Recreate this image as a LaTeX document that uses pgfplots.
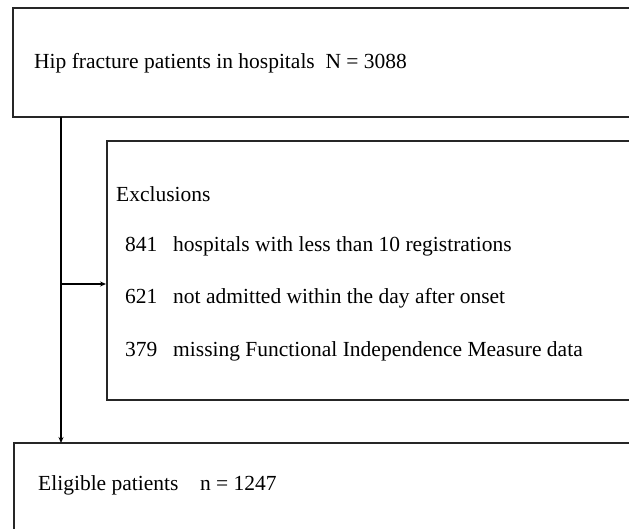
\documentclass[border=0pt]{standalone}
\usepackage{pgfplots}
\pgfplotsset{compat=1.18}
\usepackage{fontspec}
\setmainfont{Liberation Serif}
\usetikzlibrary{arrows.meta}
\tikzset{lbl/.style={font=\fontsize{21.5}{25}\selectfont, anchor=base west, inner sep=0pt}}
\begin{document}
\begin{tikzpicture}
\begin{axis}[
  width=629pt, height=529pt, scale only axis,
  xmin=0, xmax=629, ymin=0, ymax=529, y dir=reverse,
  hide axis, clip=false
]
% top box
\addplot[draw=black!85, line width=2pt] coordinates {(629,8) (13,8) (13,117) (629,117)};
% exclusions box
\addplot[draw=black!85, line width=2pt] coordinates {(629,141) (107,141) (107,400) (629,400)};
% bottom box
\addplot[draw=black!85, line width=2pt] coordinates {(629,443) (14,443) (14,529)};
% connectors
\addplot[draw=black, line width=1.5pt, -{Stealth[length=6pt,width=5pt]}] coordinates {(61,117) (61,443)};
\addplot[draw=black, line width=1.5pt, -{Stealth[length=6pt,width=5pt]}] coordinates {(61,284) (106,284)};
% texts
\node[lbl] at (axis cs:34,69) {Hip fracture patients in hospitals\ \ N = 3088};
\node[lbl] at (axis cs:116,202) {Exclusions};
\node[lbl] at (axis cs:125,252) {841};
\node[lbl] at (axis cs:173,252) {hospitals with less than 10 registrations};
\node[lbl] at (axis cs:125,304) {621};
\node[lbl] at (axis cs:173,304) {not admitted within the day after onset};
\node[lbl] at (axis cs:125,356) {379};
\node[lbl] at (axis cs:173,356) {missing Functional Independence Measure data};
\node[lbl] at (axis cs:38,490) {Eligible patients\quad n = 1247};
\end{axis}
\pgfresetboundingbox
\path (current axis.south west) rectangle (current axis.north east);
\end{tikzpicture}
\end{document}
